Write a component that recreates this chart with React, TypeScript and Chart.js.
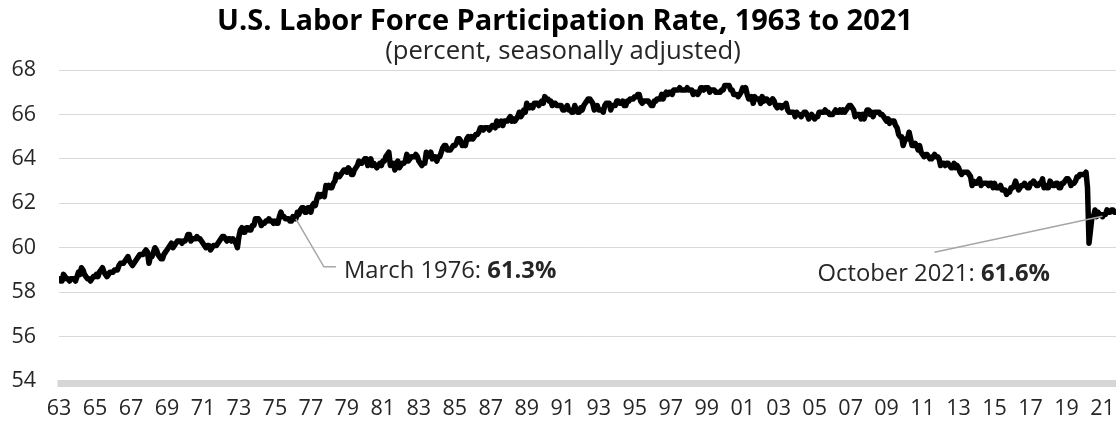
import { useEffect, useRef } from 'react';
import { Chart, registerables } from 'chart.js';

Chart.register(...registerables);

// ---- DATA ----
const titleText = 'U.S. Labor Force Participation Rate, 1963 to 2021';
const subtitleText = '(percent, seasonally adjusted)';

const xTickLabels = ['63', '65', '67', '69', '71', '73', '75', '77', '79', '81', '83', '85', '87', '89', '91', '93', '95', '97', '99', '01', '03', '05', '07', '09', '11', '13', '15', '17', '19', '21'];
const monthsPerTick = 24;

// Monthly values, Jan 1963 .. Oct 2021
const lfpr1960s = [
  58.6, 58.5, 58.5, 58.8, 58.7, 58.6, 58.6, 58.5, 58.6, 58.6, 58.6, 58.5,
  58.7, 58.9, 58.8, 59.1, 59.0, 58.8, 58.7, 58.6, 58.6, 58.5, 58.6, 58.7,
  58.7, 58.8, 58.7, 58.9, 59.0, 59.1, 58.9, 58.8, 58.7, 58.8, 58.9, 58.9,
  58.9, 59.0, 59.0, 59.0, 59.2, 59.3, 59.3, 59.3, 59.4, 59.5, 59.6, 59.4,
  59.3, 59.2, 59.3, 59.4, 59.5, 59.6, 59.7, 59.7, 59.7, 59.8, 59.9, 59.8,
  59.3, 59.6, 59.6, 59.8, 60.0, 59.9, 59.7, 59.6, 59.5, 59.5, 59.7, 59.8,
  59.9, 60.0, 60.1, 60.2, 60.0, 60.1, 60.2, 60.3, 60.3, 60.3, 60.2, 60.3,
];
const lfpr1970s = [
  60.3, 60.4, 60.6, 60.6, 60.3, 60.4, 60.4, 60.4, 60.5, 60.4, 60.4, 60.3,
  60.2, 60.1, 60.0, 60.1, 60.1, 59.9, 60.0, 60.1, 60.1, 60.1, 60.2, 60.3,
  60.4, 60.5, 60.5, 60.4, 60.3, 60.4, 60.4, 60.3, 60.4, 60.3, 60.2, 60.0,
  60.5, 60.8, 60.9, 60.7, 60.7, 60.9, 60.9, 60.8, 60.8, 61.0, 61.0, 61.3,
  61.3, 61.3, 61.2, 61.0, 61.1, 61.1, 61.2, 61.2, 61.3, 61.2, 61.2, 61.1,
  61.2, 61.1, 61.1, 61.4, 61.6, 61.4, 61.4, 61.3, 61.3, 61.3, 61.2, 61.2,
  61.4, 61.3, 61.3, 61.6, 61.5, 61.7, 61.8, 61.8, 61.6, 61.6, 61.8, 61.8,
  61.6, 61.9, 62.0, 61.9, 62.2, 62.4, 62.3, 62.4, 62.4, 62.3, 62.8, 62.7,
  62.8, 62.7, 62.7, 62.9, 63.0, 63.3, 63.2, 63.2, 63.3, 63.4, 63.5, 63.5,
  63.4, 63.6, 63.5, 63.3, 63.3, 63.5, 63.6, 63.7, 63.9, 63.8, 63.8, 63.9,
];
const lfpr1980s = [
  64.0, 64.0, 63.7, 63.8, 64.0, 63.7, 63.8, 63.7, 63.6, 63.7, 63.8, 63.7,
  63.9, 63.9, 64.1, 64.2, 64.3, 63.7, 63.8, 63.8, 63.5, 63.8, 63.9, 63.6,
  63.7, 63.8, 63.8, 63.9, 64.2, 63.9, 64.0, 64.1, 64.1, 64.1, 64.2, 64.1,
  63.9, 63.8, 63.7, 63.8, 63.8, 64.3, 64.1, 64.2, 64.3, 64.0, 64.1, 64.1,
  63.9, 64.1, 64.1, 64.3, 64.5, 64.6, 64.6, 64.4, 64.4, 64.4, 64.5, 64.6,
  64.6, 64.7, 64.9, 64.9, 64.8, 64.6, 64.7, 64.6, 64.9, 65.0, 64.9, 65.0,
  64.9, 65.0, 65.1, 65.1, 65.2, 65.4, 65.4, 65.3, 65.4, 65.4, 65.4, 65.3,
  65.4, 65.5, 65.5, 65.4, 65.7, 65.5, 65.6, 65.7, 65.5, 65.7, 65.7, 65.7,
  65.8, 65.9, 65.7, 65.8, 65.7, 65.8, 65.9, 66.1, 65.9, 66.0, 66.2, 66.1,
  66.5, 66.3, 66.3, 66.4, 66.3, 66.5, 66.5, 66.5, 66.4, 66.5, 66.6, 66.5,
];
const lfpr1990s = [
  66.8, 66.7, 66.7, 66.6, 66.6, 66.4, 66.5, 66.5, 66.4, 66.4, 66.4, 66.4,
  66.2, 66.2, 66.3, 66.4, 66.2, 66.2, 66.1, 66.1, 66.4, 66.2, 66.1, 66.1,
  66.3, 66.2, 66.4, 66.5, 66.6, 66.7, 66.7, 66.6, 66.5, 66.2, 66.3, 66.4,
  66.2, 66.2, 66.2, 66.1, 66.4, 66.5, 66.5, 66.5, 66.2, 66.4, 66.4, 66.4,
  66.6, 66.6, 66.5, 66.5, 66.6, 66.4, 66.4, 66.6, 66.6, 66.7, 66.7, 66.7,
  66.8, 66.8, 66.9, 66.9, 66.6, 66.5, 66.6, 66.6, 66.6, 66.6, 66.5, 66.4,
  66.4, 66.6, 66.6, 66.7, 66.7, 66.7, 66.9, 66.7, 66.9, 67.0, 66.9, 67.0,
  67.0, 66.9, 67.1, 67.1, 67.1, 67.1, 67.2, 67.1, 67.1, 67.1, 67.1, 67.2,
  67.1, 67.1, 67.1, 66.9, 67.0, 67.0, 66.9, 67.0, 67.2, 67.2, 67.1, 67.2,
  67.2, 67.2, 67.0, 67.1, 67.1, 67.1, 67.0, 67.0, 67.0, 67.0, 67.1, 67.1,
];
const lfpr2000s = [
  67.3, 67.3, 67.3, 67.3, 67.1, 67.1, 66.9, 66.9, 66.9, 66.8, 66.9, 67.0,
  67.2, 67.1, 67.2, 66.9, 66.7, 66.7, 66.8, 66.5, 66.8, 66.7, 66.7, 66.7,
  66.5, 66.8, 66.6, 66.7, 66.7, 66.6, 66.5, 66.6, 66.7, 66.6, 66.4, 66.3,
  66.4, 66.4, 66.3, 66.4, 66.4, 66.5, 66.2, 66.1, 66.1, 66.1, 66.1, 65.9,
  66.1, 66.0, 66.0, 65.9, 66.0, 66.1, 66.1, 66.0, 65.8, 65.9, 66.0, 65.9,
  65.8, 65.9, 65.9, 66.1, 66.1, 66.1, 66.1, 66.2, 66.1, 66.1, 66.0, 66.0,
  66.0, 66.1, 66.2, 66.1, 66.1, 66.2, 66.1, 66.2, 66.1, 66.2, 66.3, 66.4,
  66.4, 66.3, 66.2, 65.9, 66.0, 66.0, 66.0, 65.8, 66.0, 65.8, 66.0, 66.2,
  66.2, 66.0, 66.1, 65.9, 66.1, 66.1, 66.1, 66.1, 66.0, 66.0, 65.9, 65.8,
  65.7, 65.8, 65.6, 65.7, 65.7, 65.7, 65.5, 65.4, 65.1, 65.0, 65.0, 64.6,
];
const lfpr2010s = [
  64.8, 64.9, 64.9, 65.2, 64.9, 64.6, 64.6, 64.7, 64.6, 64.4, 64.6, 64.3,
  64.2, 64.1, 64.2, 64.2, 64.1, 64.0, 64.0, 64.1, 64.2, 64.1, 64.1, 64.0,
  63.7, 63.8, 63.8, 63.7, 63.8, 63.8, 63.7, 63.6, 63.6, 63.8, 63.6, 63.7,
  63.6, 63.4, 63.3, 63.4, 63.4, 63.4, 63.4, 63.3, 63.2, 62.8, 63.0, 62.9,
  62.9, 63.0, 63.1, 62.8, 62.9, 62.9, 62.9, 62.9, 62.8, 62.9, 62.9, 62.7,
  62.9, 62.7, 62.7, 62.7, 62.8, 62.6, 62.6, 62.6, 62.4, 62.5, 62.5, 62.7,
  62.7, 62.8, 63.0, 62.8, 62.6, 62.7, 62.8, 62.8, 62.9, 62.8, 62.7, 62.7,
  62.9, 62.9, 63.0, 62.9, 62.8, 62.8, 62.9, 62.9, 63.1, 62.7, 62.8, 62.7,
  62.7, 63.0, 62.9, 62.8, 62.8, 62.9, 62.9, 62.7, 62.7, 62.9, 62.9, 63.0,
  63.1, 63.1, 63.0, 62.8, 62.9, 62.9, 63.0, 63.2, 63.2, 63.3, 63.3, 63.3,
];
const lfpr2020s = [
  63.3, 63.4, 62.7, 60.2, 60.8, 61.4, 61.4, 61.7, 61.4, 61.6, 61.5, 61.5,
  61.4, 61.5, 61.5, 61.7, 61.6, 61.6, 61.7, 61.7, 61.6, 61.6,
];

const annotationLabels = ['March 1976: ', 'October 2021: '];
const annotationValues = ['61.3%', '61.6%'];
const annotationMonths = [158, 705];

const yMin = 54;
const yMax = 68;
const yStep = 2;

const series = [...lfpr1960s, ...lfpr1970s, ...lfpr1980s, ...lfpr1990s, ...lfpr2000s, ...lfpr2010s, ...lfpr2020s];

const FONT = '"Open Sans"';
const TEXT = '#262626';

const overlayPlugin = {
  id: 'overlay',
  beforeDatasetsDraw(chart: any) {
    const { ctx, chartArea } = chart;
    ctx.save();
    ctx.fillStyle = '#d6d6d6';
    ctx.fillRect(chartArea.left - 1.5, chartArea.bottom - 1, chart.width - chartArea.left + 1.5, 7);
    ctx.restore();
  },
  afterDatasetsDraw(chart: any) {
    const { ctx } = chart;
    const xs = chart.scales.x;
    const ys = chart.scales.y;
    ctx.save();
    // titles
    ctx.textAlign = 'center';
    ctx.textBaseline = 'alphabetic';
    ctx.fillStyle = '#000';
    ctx.font = `bold 29px ${FONT}`;
    ctx.fillText(titleText, 565, 30);
    ctx.fillStyle = TEXT;
    ctx.font = `25.7px ${FONT}`;
    ctx.fillText(subtitleText, 563, 59);

    // annotations
    ctx.strokeStyle = '#a6a6a6';
    ctx.lineWidth = 1.5;
    const drawLabel = (i: number, tx: number, ty: number) => {
      ctx.textAlign = 'left';
      ctx.fillStyle = TEXT;
      ctx.font = `23.8px ${FONT}`;
      ctx.fillText(annotationLabels[i], tx, ty);
      const w = ctx.measureText(annotationLabels[i]).width;
      ctx.font = `bold 23.8px ${FONT}`;
      ctx.fillText(annotationValues[i], tx + w, ty);
    };
    // March 1976
    {
      const m = annotationMonths[0];
      const px = xs.getPixelForValue(m);
      const py = ys.getPixelForValue(series[m]);
      ctx.beginPath();
      ctx.moveTo(px, py);
      ctx.lineTo(px + 28, py + 48);
      ctx.lineTo(px + 40, py + 48);
      ctx.stroke();
      drawLabel(0, px + 48, py + 59);
    }
    // October 2021
    {
      const m = annotationMonths[1];
      const px = xs.getPixelForValue(m);
      const py = ys.getPixelForValue(series[m]);
      ctx.beginPath();
      ctx.moveTo(px - 13.5, py + 4);
      ctx.lineTo(px - 181.5, py + 40);
      ctx.stroke();
      drawLabel(1, px - 298.5, py + 69);
    }
    ctx.restore();
  },
};

export default function App() {
  const ref = useRef<HTMLCanvasElement>(null);

  useEffect(() => {
    if (!ref.current) return;
    const chart = new Chart(ref.current, {
      type: 'line',
      data: {
        datasets: [
          {
            data: series.map((v, i) => ({ x: i, y: v })),
            borderColor: '#000000',
            borderWidth: 5.5,
            pointRadius: 0,
            tension: 0,
            borderJoinStyle: 'round',
            borderCapStyle: 'round',
            fill: false,
          },
        ],
      },
      options: {
        animation: false,
        responsive: false,
        layout: { padding: { top: 70, right: 0, left: 0, bottom: 0 } },
        plugins: {
          legend: { display: false },
          tooltip: { enabled: false },
          title: { display: false },
        },
        scales: {
          x: {
            type: 'linear',
            min: 0,
            max: series.length - 1,
            afterBuildTicks: (s: any) => {
              s.ticks = xTickLabels.map((_, i) => ({ value: i * monthsPerTick }));
            },
            afterFit: (s: any) => {
              s.height = 42;
              s.paddingLeft = 0;
              s.paddingRight = 0;
            },
            ticks: {
              autoSkip: false,
              maxRotation: 0,
              padding: 15,
              color: TEXT,
              font: { family: FONT, size: 21.5 },
              callback: (_v: any, i: number) => xTickLabels[i],
            },
            grid: { display: true, drawOnChartArea: false, drawTicks: false, color: 'rgba(0,0,0,0)' },
            border: { display: false },
          },
          y: {
            min: yMin,
            max: yMax,
            afterFit: (s: any) => {
              s.width = 59;
            },
            ticks: {
              stepSize: yStep,
              padding: 23,
              color: TEXT,
              font: { family: FONT, size: 21.5 },
            },
            grid: { color: '#d9d9d9', lineWidth: 1, drawTicks: false },
            border: { display: false },
          },
        },
      },
      plugins: [overlayPlugin],
    });
    return () => chart.destroy();
  }, []);

  return (
    <div style={{ position: 'fixed', left: 0, top: 0, width: 1116, height: 423, background: '#fff' }}>
      <canvas ref={ref} width={1116} height={423} style={{ display: 'block' }} />
    </div>
  );
}
